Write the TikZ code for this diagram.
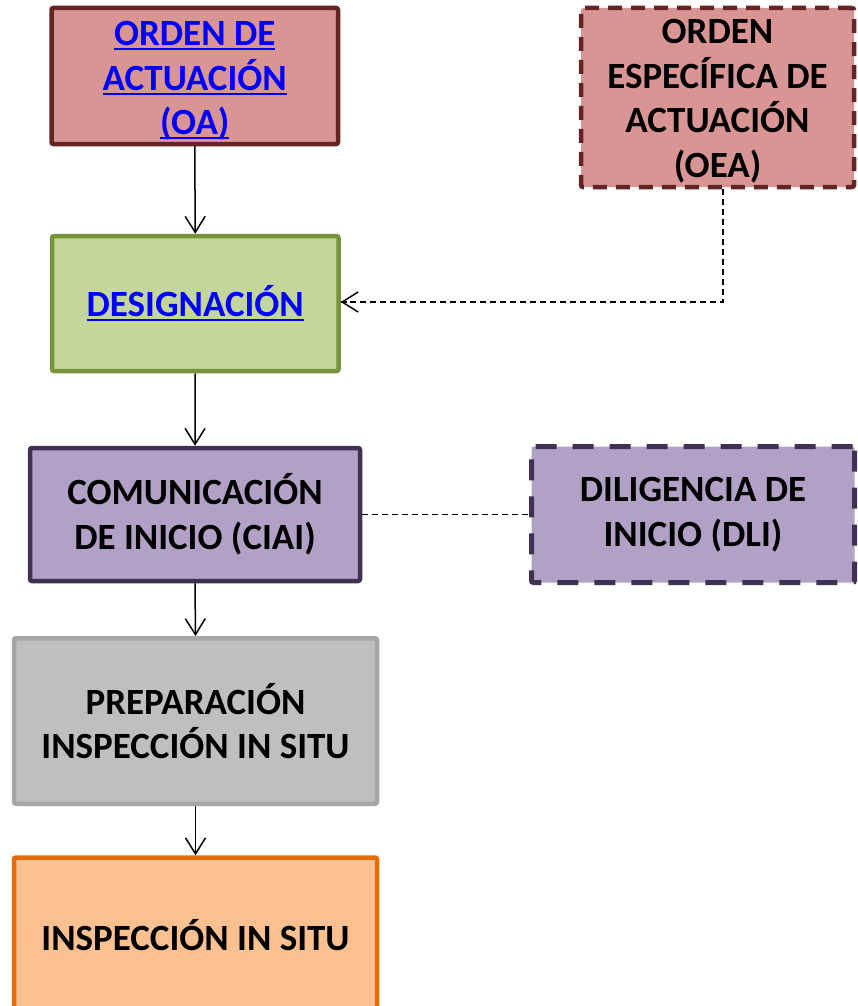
\documentclass[tikz,border=0pt]{standalone}
\usepackage{fontspec}
\setmainfont{Carlito}
\usetikzlibrary{arrows.meta}
\definecolor{oafill}{HTML}{D99594}
\definecolor{oadraw}{HTML}{632523}
\definecolor{desfill}{HTML}{C3D69B}
\definecolor{desdraw}{HTML}{77933C}
\definecolor{cifill}{HTML}{B2A1C7}
\definecolor{cidraw}{HTML}{3F3151}
\definecolor{prfill}{HTML}{BFBFBF}
\definecolor{prdraw}{HTML}{A6A6A6}
\definecolor{infill}{HTML}{FAC090}
\definecolor{indraw}{HTML}{E46C0A}
\definecolor{linkblue}{HTML}{0000FF}
\newcommand\myul[1]{\setbox0\hbox{#1}\rlap{\rule[-4.5pt]{\wd0}{2pt}}\box0}
\begin{document}
\begin{tikzpicture}[x=1pt,y=-1pt,
  boxstyle/.style={rectangle, rounded corners=2pt, line width=4.5pt, align=center,
    font=\fontsize{37}{44.5}\selectfont\bfseries, inner sep=0pt},
  dashbox/.style={boxstyle, dash pattern=on 14pt off 9pt},
  dashboxwide/.style={boxstyle, line width=5pt, dash pattern=on 21pt off 16pt},
  flow/.style={line width=1.5pt, -{Straight Barb[length=16pt,width=20pt]}},
  dashflow/.style={line width=1.5pt, dash pattern=on 6pt off 4pt}
]
\useasboundingbox (0,0) rectangle (857,1006);
\clip (0,0) rectangle (857,1006);
\node[boxstyle, fill=oafill, draw=oadraw, minimum width=286.5pt, minimum height=136pt, text=linkblue]
  (oa) at (194.75,76) {\rule{0pt}{34pt}\myul{ORDEN DE}\\\myul{ACTUACIÓN}\\\myul{(OA)}};
\node[dashbox, fill=oafill, draw=oadraw, minimum width=273pt, minimum height=179pt]
  (oea) at (717.5,97.5) {\rule{0pt}{32pt}ORDEN\\ESPECÍFICA DE\\ACTUACIÓN\\(OEA)};
\node[boxstyle, fill=desfill, draw=desdraw, minimum width=286.5pt, minimum height=135pt, text=linkblue]
  (des) at (195.25,303.5) {\myul{DESIGNACIÓN}};
\node[boxstyle, fill=cifill, draw=cidraw, minimum width=330pt, minimum height=133pt]
  (ci) at (195,514.5) {COMUNICACIÓN\\DE INICIO (CIAI)};
\node[dashboxwide, fill=cifill, draw=cidraw, minimum width=323pt, minimum height=136pt]
  (dli) at (693,514.5) {DILIGENCIA DE\\INICIO (DLI)};
\node[boxstyle, fill=prfill, draw=prdraw, minimum width=363pt, minimum height=165.5pt]
  (pr) at (195.5,721) {PREPARACIÓN\\INSPECCIÓN IN SITU};
\node[boxstyle, fill=infill, draw=indraw, minimum width=363pt, minimum height=155pt]
  (in) at (195.5,935) {INSPECCIÓN IN SITU};
\coordinate (k) at (723,302);
\draw[flow] (oa.south) -- (des.north);
\draw[flow] (des.south) -- (ci.north);
\draw[flow] (ci.south) -- (pr.north);
\draw[flow] (pr.south) -- (in.north);
\draw[dashflow] (oea.south -| k) -- (k) -- (k -| des.east);
\draw[line width=1.5pt, {Straight Barb[length=16pt,width=20pt]}-] (k -| des.east) -- ++(6,0);
\draw[dashflow] (ci.east) -- (dli.west);
\end{tikzpicture}
\end{document}
